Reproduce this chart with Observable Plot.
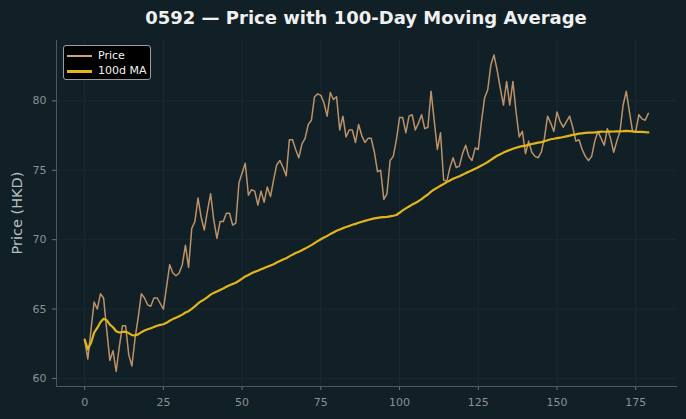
<!DOCTYPE html>
<html>
<head>
<meta charset="utf-8">
<script src="https://cdn.jsdelivr.net/npm/d3@7"></script>
<script src="https://cdn.jsdelivr.net/npm/@observablehq/plot@0.6"></script>
<style>
  html, body { margin: 0; padding: 0; background: #111f26; }
  #wrap { position: relative; width: 686px; height: 419px; background: #111f26; font-family: "DejaVu Sans", sans-serif; }
  #legend { position: absolute; left: 63px; top: 45px; width: 88px; height: 35px; background: #000; border: 1px solid #9a9fa2; border-radius: 3px; box-sizing: border-box; }
  .li { position: absolute; left: 0; height: 15px; font-size: 11px; color: #f0f0f0; }
  .li span.sw { position: absolute; left: 3px; width: 25px; }
  .li span.tx { position: absolute; left: 34px; top: 0; white-space: nowrap; line-height: 15px; }
</style>
</head>
<body>
<div id="wrap"></div>
<script>
// Title and labels
const title = "0592 — Price with 100-Day Moving Average";
const yLabel = "Price (HKD)";
const seriesNames = ["Price", "100d MA"];
const seriesColors = ["#d4a373", "#e2b51c"];
const seriesWidths = [1.5, 2.2];
const maWindow = 100;

// Daily closing prices, day index 0..179
const price = [
  62.8, 61.4, 63.5, 65.5, 65.0, 66.1, 65.8, 63.5, 61.3, 62.0,
  60.5, 62.3, 63.8, 63.8, 61.7, 60.9, 62.9, 64.4, 66.1, 65.8,
  65.3, 65.2, 65.8, 65.8, 65.4, 65.0, 66.6, 68.2, 67.6, 67.4,
  67.6, 68.2, 69.6, 68.0, 70.8, 71.3, 73.0, 71.6, 70.7, 72.1,
  73.3, 71.4, 70.1, 71.3, 71.3, 71.9, 71.9, 71.05, 71.2, 74.1,
  74.8, 75.5, 73.2, 73.6, 73.5, 72.5, 73.5, 72.7, 73.8, 73.1,
  74.3, 75.4, 75.7, 75.2, 74.6, 77.2, 77.2, 76.5, 75.9, 76.9,
  77.3, 78.3, 78.6, 80.3, 80.5, 80.4, 79.85, 78.9, 80.6, 80.1,
  80.3, 77.9, 78.9, 77.4, 77.9, 77.9, 77.0, 78.3, 77.5, 77.0,
  77.3, 77.3, 76.3, 74.9, 75.0, 72.9, 73.3, 75.7, 76.0, 77.2,
  78.8, 78.8, 77.7, 78.9, 79.0, 77.9, 78.4, 79.0, 78.0, 78.1,
  80.7, 78.6, 76.5, 77.7, 74.3, 74.2, 75.2, 75.9, 75.2, 75.3,
  76.2, 76.8, 76.0, 75.7, 76.6, 76.5, 78.5, 80.2, 80.8, 82.6,
  83.3, 82.2, 80.9, 79.7, 81.4, 79.7, 81.4, 79.2, 77.4, 77.8,
  76.2, 77.1, 76.3, 76.0, 75.9, 76.3, 77.3, 78.9, 78.4, 77.8,
  79.2, 78.5, 78.1, 78.5, 78.9, 78.1, 77.1, 77.2, 76.5, 76.0,
  75.7, 76.0, 77.1, 77.8, 77.3, 76.8, 78.0, 77.3, 76.3, 77.1,
  77.8, 79.7, 80.7, 79.2, 77.8, 77.8, 79.0, 78.7, 78.6, 79.1
];
const day = d3.range(price.length);

const xTicks = [0, 25, 50, 75, 100, 125, 150, 175];
const yTicks = [60, 65, 70, 75, 80];

const data = day.map((d, i) => ({day: d, price: price[i]}));

const tickColor = "#8a9297";
const gridColor = "#1c2a31";

const chart = Plot.plot({
  width: 686,
  height: 419,
  marginLeft: 56,
  marginRight: 10,
  marginTop: 40,
  marginBottom: 33,
  style: {background: "#111f26", fontFamily: "DejaVu Sans, sans-serif", fontSize: "11px"},
  x: {domain: [-8.95, 187.95]},
  y: {domain: [59.42, 84.35]},
  marks: [
    Plot.gridX(xTicks, {stroke: gridColor, strokeOpacity: 1}),
    Plot.gridY(yTicks, {stroke: gridColor, strokeOpacity: 1}),
    Plot.axisX(xTicks, {tickSize: 4, tickPadding: 8, stroke: "#6d7579", fill: tickColor, label: null, fontSize: 11}),
    Plot.axisY(yTicks, {tickSize: 4, tickPadding: 6, stroke: "#6d7579", fill: tickColor, label: null, fontSize: 11}),
    Plot.frame({anchor: "left", stroke: "#4f585c"}),
    Plot.frame({anchor: "bottom", stroke: "#4f585c"}),
    Plot.lineY(data, {x: "day", y: "price", stroke: seriesColors[0], strokeWidth: seriesWidths[0], strokeOpacity: 0.88}),
    Plot.lineY(data, Plot.windowY({k: maWindow, anchor: "end", reduce: "mean", strict: false}, {x: "day", y: "price", stroke: seriesColors[1], strokeWidth: seriesWidths[1]}))
  ]
});

const wrap = document.getElementById("wrap");
wrap.appendChild(chart);

const svg = d3.select(chart);
svg.append("text")
  .attr("x", 366).attr("y", 24)
  .attr("text-anchor", "middle")
  .attr("fill", "#f0f0f0")
  .attr("font-family", "DejaVu Sans, sans-serif")
  .attr("font-weight", "bold")
  .attr("font-size", 18)
  .text(title);
svg.append("text")
  .attr("transform", "translate(22,213) rotate(-90)")
  .attr("text-anchor", "middle")
  .attr("fill", "#b9bfc2")
  .attr("font-family", "DejaVu Sans, sans-serif")
  .attr("font-size", 14.5)
  .text(yLabel);

// Legend
const legend = d3.select(wrap).append("div").attr("id", "legend");
const swatchPx = [2, 3];
seriesNames.forEach((name, i) => {
  const row = legend.append("div").attr("class", "li").style("top", (2 + i * 15) + "px").style("width", "86px");
  row.append("span").attr("class", "sw")
    .style("top", "7px")
    .style("height", swatchPx[i] + "px")
    .style("background", seriesColors[i]);
  row.append("span").attr("class", "tx").text(name);
});
</script>
</body>
</html>
